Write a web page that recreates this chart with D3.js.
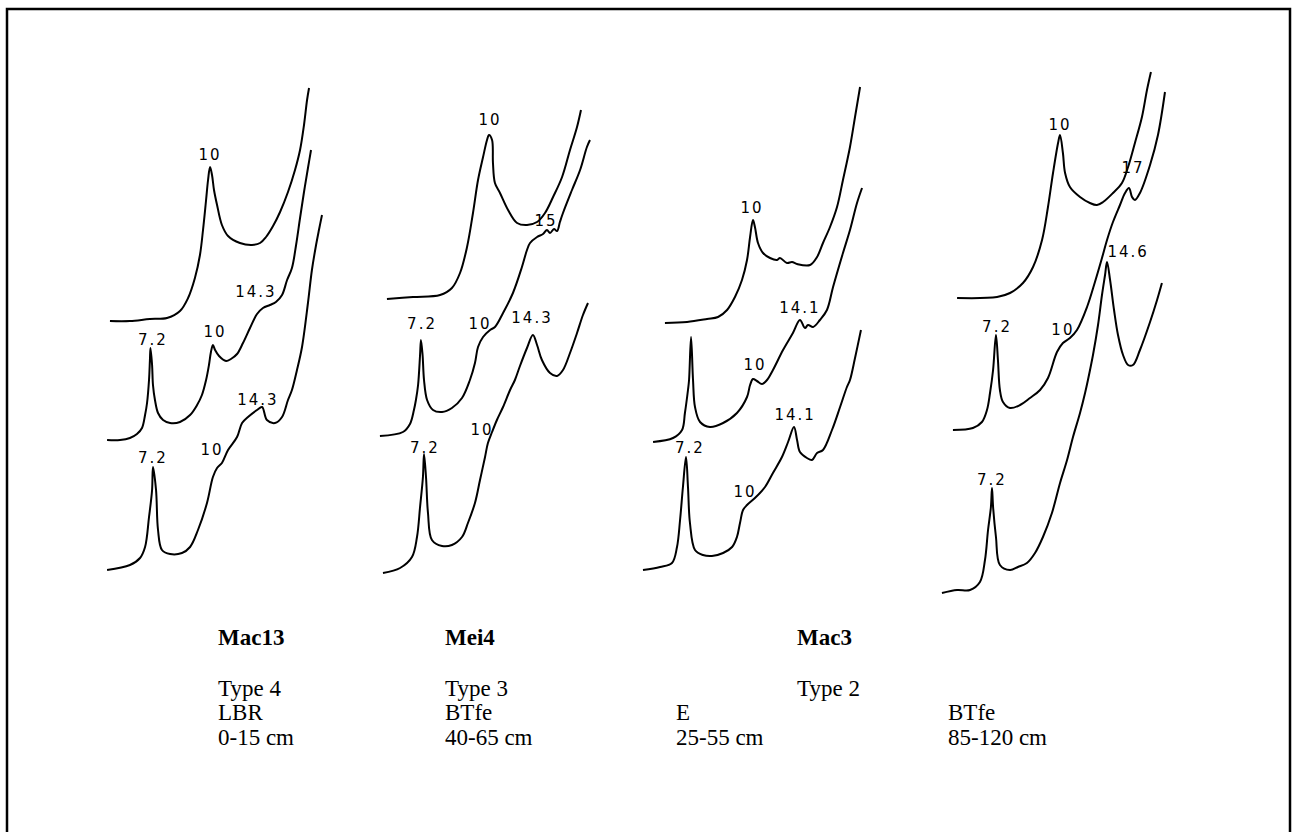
<!DOCTYPE html>
<html>
<head>
<meta charset="utf-8">
<script src="https://cdnjs.cloudflare.com/ajax/libs/d3/7.8.5/d3.min.js"></script>
<style>
  body { margin: 0; background: #fff; }
  svg { display: block; }
</style>
</head>
<body>
<div id="chart"></div>
<script>
// ---- traces: 2-theta (deg) and intensity (arbitrary units), top / middle / bottom ----
const mac13TopTheta = [14.53,13.42,12.31,11.36,10.64,10.19,9.81,9.53,9.36,9.19,9.08,8.97,8.86,8.75,8.58,8.31,7.97,7.31,6.64,6.19,5.86,5.47,5.08,4.64,4.25,3.97,3.75,3.58,3.47];
const mac13TopInt   = [0,0,2,3,10,23,43,66,91,121,141,154,146,131,116,96,85,78,76,78,84,95,109,129,151,171,196,221,233];
const mac13MidTheta = [14.69,13.97,13.42,13.03,12.75,12.58,12.47,12.36,12.31,12.28,12.19,12.14,12.03,11.86,11.58,11.19,10.64,10.08,9.69,9.42,9.19,9.03,8.92,8.81,8.69,8.47,8.08,7.81,7.47,7.14,6.75,6.36,6.03,5.64,5.31,4.97,4.69,4.42,4.19,3.97,3.75,3.53,3.36];
const mac13MidInt   = [0,0,2,6,12,25,37,60,80,92,75,55,40,27,20,17,18,25,35,45,60,75,88,95,90,84,79,81,86,97,112,126,132,135,138,145,160,172,195,222,248,272,290];
const mac13BotTheta = [14.69,13.42,12.86,12.58,12.36,12.19,12.14,11.97,11.86,11.64,11.19,10.53,10.08,9.64,9.14,8.81,8.58,8.31,7.97,7.47,7.19,6.86,6.36,6.08,5.81,5.36,4.97,4.64,4.42,4.14,3.86,3.53,3.31,3.08,2.92,2.75];
const mac13BotInt   = [0,5,12,23,53,80,103,80,40,20,16,17,23,40,67,93,102,107,120,133,147,153,160,163,150,147,153,170,180,200,223,267,300,325,340,355];

const mei4TopTheta = [14.17,12.72,11.22,10.56,10.11,9.72,9.39,9.11,8.83,8.61,8.5,8.33,8.28,8.17,7.89,7.44,6.94,6.39,5.83,5.39,4.94,4.44,4.0,3.61,3.39];
const mei4TopInt   = [0,2,4,11,26,52,86,119,142,159,164,159,136,116,106,89,76,74,77,86,102,122,149,172,189];
const mei4MidTheta = [14.56,13.28,12.89,12.67,12.56,12.44,12.33,12.28,12.19,12.11,11.94,11.61,11.11,10.56,10.0,9.56,9.28,9.11,8.83,8.44,8.17,7.72,7.17,6.67,6.39,6.22,5.83,5.5,5.28,5.11,4.89,4.72,4.56,4.39,3.89,3.44,3.06,2.89];
const mei4MidInt   = [0,4,12,26,36,51,81,96,81,56,36,26,24,28,38,56,73,89,99,106,109,123,143,169,186,193,199,202,206,203,207,205,214,223,246,266,289,296];
const mei4BotTheta = [14.39,13.44,12.78,12.5,12.33,12.17,12.11,12.0,11.89,11.67,11.11,10.56,10.0,9.67,9.28,9.0,8.72,8.56,8.33,8.06,7.72,7.33,7.06,6.78,6.39,6.06,5.83,5.56,5.11,4.72,4.39,4.0,3.61,3.28,3.0];
const mei4BotInt   = [0,5,16,36,66,96,119,96,60,33,27,28,36,50,70,93,116,130,141,153,166,183,193,207,225,238,228,213,200,197,203,220,240,258,270];

const mac3ETopTheta = [13.67,12.44,11.33,10.72,10.22,9.78,9.39,9.11,8.94,8.78,8.67,8.5,8.22,7.83,7.44,7.28,6.89,6.61,6.33,5.61,5.22,4.89,4.5,4.11,3.78,3.39,3.11,2.83];
const mac3ETopInt   = [0,1,4,6,13,26,43,63,86,103,96,80,70,65,63,65,60,61,59,58,66,80,96,116,143,176,206,236];
const mac3EMidTheta = [14.33,13.22,12.72,12.56,12.39,12.33,12.22,12.11,12.0,11.72,11.17,10.44,9.67,9.11,8.94,8.78,8.56,8.28,8.0,7.67,7.11,6.56,6.17,5.89,5.72,5.44,5.06,4.67,4.33,3.78,3.39,3.0,2.72];
const mac3EMidInt   = [0,4,12,29,52,62,105,62,35,20,15,19,29,45,57,63,61,58,62,72,92,109,122,114,117,115,122,132,155,189,212,239,254];
const mac3EBotTheta = [14.89,13.94,13.28,13.0,12.83,12.67,12.5,12.39,12.28,12.0,11.56,11.06,10.44,9.94,9.67,9.5,9.33,9.11,8.67,8.11,7.67,7.17,6.83,6.5,6.33,6.17,5.78,5.5,5.22,4.89,4.39,3.94,3.56,3.39,3.11,2.78];
const mac3EBotInt   = [0,3,7,23,50,83,113,83,47,20,15,14,17,23,33,47,60,65,72,83,97,113,128,143,130,118,112,110,117,120,140,163,183,190,212,240];

const mac3BTopTheta = [14.44,12.22,11.5,10.78,10.22,9.72,9.39,9.11,8.83,8.72,8.56,8.44,8.17,7.61,7.06,6.67,6.33,5.78,5.28,4.94,4.56,4.17,3.89,3.67];
const mac3BTopInt   = [0,1,5,15,31,58,91,125,155,163,145,125,111,101,95,93,96,105,115,131,155,181,208,226];
const mac3BMidTheta = [14.67,13.56,13.06,12.78,12.61,12.44,12.28,12.17,12.06,11.89,11.5,10.94,10.39,9.83,9.39,8.89,8.56,8.17,7.78,7.22,6.78,6.39,6.11,5.78,5.39,5.11,4.89,4.72,4.56,4.28,3.72,3.28,2.89];
const mac3BMidInt   = [0,2,8,20,37,60,95,70,40,28,22,25,32,40,52,78,87,92,100,123,148,172,190,208,225,237,242,233,230,237,265,295,338];
const mac3BBotTheta = [15.28,14.44,13.72,13.17,12.89,12.72,12.56,12.5,12.44,12.28,12.06,11.5,11.06,10.56,10.11,9.67,9.17,8.72,8.33,8.0,7.61,7.33,7.17,6.89,6.61,6.39,6.22,6.11,5.94,5.72,5.5,5.22,4.94,4.67,4.28,3.72,3.33,3.06];
const mac3BBotInt   = [0,3,3,11,33,63,86,105,86,56,28,23,26,30,40,56,80,110,133,156,180,200,213,238,268,298,318,331,313,283,258,238,228,228,243,271,293,310];

// peak labels (d-spacing in angstrom) placed at [2-theta, intensity]
const mac13TopPeaks = [["10", 8.97, 166]];
const mac13MidPeaks = [["7.2", 12.14, 100], ["10", 8.69, 108], ["14.3", 6.42, 148]];
const mac13BotPeaks = [["7.2", 12.14, 112], ["10", 8.86, 120], ["14.3", 6.31, 170]];
const mei4TopPeaks  = [["10", 8.44, 179]];
const mei4MidPeaks  = [["7.2", 12.22, 112], ["10", 9.0, 112], ["15", 5.33, 215]];
const mei4BotPeaks  = [["7.2", 12.06, 125], ["10", 8.89, 143], ["14.3", 6.11, 255]];
const mac3ETopPeaks = [["10", 8.83, 115]];
const mac3EMidPeaks = [["10", 8.67, 77], ["14.1", 6.17, 134]];
const mac3EBotPeaks = [["7.2", 12.28, 122], ["10", 9.22, 78], ["14.1", 6.44, 155]];
const mac3BTopPeaks = [["10", 8.72, 173]];
const mac3BMidPeaks = [["7.2", 12.22, 103], ["10", 8.56, 100], ["17", 4.67, 262]];
const mac3BBotPeaks = [["7.2", 12.5, 113], ["14.6", 4.94, 341]];

// captions
const sampleNames = ["Mac13", "Mei4", "Mac3"];
const typeNames = ["Type 4", "Type 3", "Type 2"];
const horizons = ["LBR", "BTfe", "E", "BTfe"];
const depths = ["0-15 cm", "40-65 cm", "25-55 cm", "85-120 cm"];

// ---- layout ----
const width = 1293, height = 832;
const pxPerDeg = 18;
const panelX = [101.5, 372, 641, 947];          // pixel of 2-theta = 15 deg in each panel
const traceBase = [[321, 440, 570], [299, 436, 573], [323, 442, 570], [298, 430, 593]];

const traces = [
    [[mac13TopTheta, mac13TopInt, mac13TopPeaks], [mac13MidTheta, mac13MidInt, mac13MidPeaks], [mac13BotTheta, mac13BotInt, mac13BotPeaks]],
    [[mei4TopTheta, mei4TopInt, mei4TopPeaks], [mei4MidTheta, mei4MidInt, mei4MidPeaks], [mei4BotTheta, mei4BotInt, mei4BotPeaks]],
    [[mac3ETopTheta, mac3ETopInt, mac3ETopPeaks], [mac3EMidTheta, mac3EMidInt, mac3EMidPeaks], [mac3EBotTheta, mac3EBotInt, mac3EBotPeaks]],
    [[mac3BTopTheta, mac3BTopInt, mac3BTopPeaks], [mac3BMidTheta, mac3BMidInt, mac3BMidPeaks], [mac3BBotTheta, mac3BBotInt, mac3BBotPeaks]]
];

const svg = d3.select("#chart").append("svg")
    .attr("width", width)
    .attr("height", height);

// frame
svg.append("rect")
    .attr("x", 7).attr("y", 9)
    .attr("width", 1283).attr("height", 840)
    .attr("fill", "none")
    .attr("stroke", "#000")
    .attr("stroke-width", 2.5);

traces.forEach((panel, p) => {
    const g = svg.append("g").attr("class", "panel");
    const x = d3.scaleLinear().domain([15, 3]).range([panelX[p], panelX[p] + 12 * pxPerDeg]);

    panel.forEach(([theta, inten, peaks], k) => {
        const base = traceBase[p][k];
        const y = d3.scaleLinear().domain([0, 100]).range([base, base - 100]);

        const line = d3.line()
            .x(d => x(d[0]))
            .y(d => y(d[1]))
            .curve(d3.curveCatmullRom.alpha(0.5));

        g.append("path")
            .datum(d3.zip(theta, inten))
            .attr("d", line)
            .attr("fill", "none")
            .attr("stroke", "#000")
            .attr("stroke-width", 2)
            .attr("stroke-linejoin", "round");

        g.selectAll(null)
            .data(peaks)
            .enter().append("text")
            .attr("x", d => x(d[1]))
            .attr("y", d => y(d[2]))
            .attr("text-anchor", "middle")
            .attr("dominant-baseline", "central")
            .attr("font-family", "DejaVu Sans, sans-serif")
            .attr("font-size", "15px")
            .attr("letter-spacing", "2px")
            .text(d => d[0]);
    });
});

// captions under the panels
const capX = [218, 445, 676, 948];
const nameX = [218, 445, 797];
const caption = svg.append("g")
    .attr("font-family", "Liberation Serif, Times New Roman, serif")
    .attr("font-size", "23px")
    .attr("fill", "#000");

caption.selectAll("text.name")
    .data(sampleNames)
    .enter().append("text")
    .attr("class", "name")
    .attr("x", (d, i) => nameX[i])
    .attr("y", 645)
    .attr("font-weight", "bold")
    .text(d => d);

caption.selectAll("text.type")
    .data(typeNames)
    .enter().append("text")
    .attr("class", "type")
    .attr("x", (d, i) => nameX[i])
    .attr("y", 696)
    .text(d => d);

caption.selectAll("text.horizon")
    .data(horizons)
    .enter().append("text")
    .attr("class", "horizon")
    .attr("x", (d, i) => capX[i])
    .attr("y", 720)
    .text(d => d);

caption.selectAll("text.depth")
    .data(depths)
    .enter().append("text")
    .attr("class", "depth")
    .attr("x", (d, i) => capX[i])
    .attr("y", 745)
    .text(d => d);
</script>
</body>
</html>
